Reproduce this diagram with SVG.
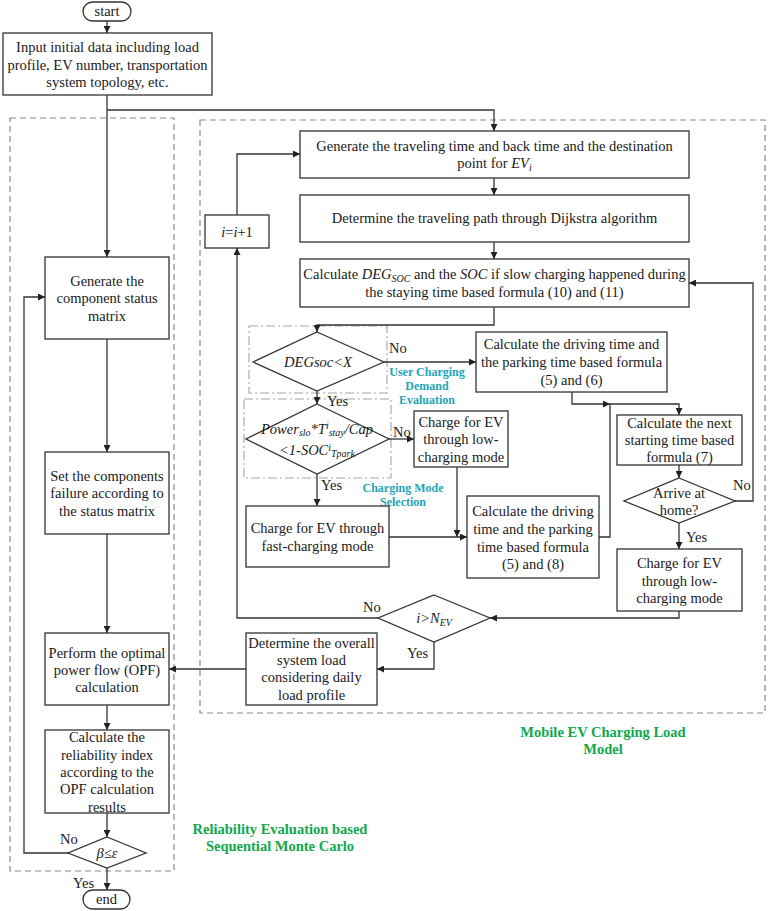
<svg xmlns="http://www.w3.org/2000/svg" width="768" height="911" viewBox="0 0 768 911">
<defs>
<marker id="ah" viewBox="0 0 8 8" refX="8" refY="4" markerWidth="7" markerHeight="7" markerUnits="userSpaceOnUse" orient="auto"><path d="M0,0 L8,4 L0,8 z" fill="#222"/></marker>
<style>
.b{fill:#fff;stroke:#333;stroke-width:1.3}
.t{font-family:"Liberation Serif","Times New Roman",serif;font-size:14.5px;fill:#1a1a1a;text-anchor:middle}
.i{font-style:italic}
.s{font-size:10px}
.c{fill:none;stroke:#333;stroke-width:1.3}
.a{marker-end:url(#ah)}
.dash{fill:none;stroke:#8a8a8a;stroke-width:1.2;stroke-dasharray:6,4}
.dd{fill:none;stroke:#a5a5a5;stroke-width:1.1;stroke-dasharray:9,3,2,3}
.teal{font-family:"Liberation Serif","Times New Roman",serif;font-size:12px;font-weight:bold;fill:#22a5b8;text-anchor:middle}
.grn{font-family:"Liberation Serif","Times New Roman",serif;font-size:14.5px;font-weight:bold;fill:#10a84b;text-anchor:middle}
.lb{font-family:"Liberation Serif","Times New Roman",serif;font-size:14.5px;fill:#1a1a1a}
</style>
</defs>
<rect width="768" height="911" fill="#fff"/>

<g id="groups">
<rect class="dash" x="10" y="118" width="164" height="753"/>
<rect class="dash" x="200" y="120" width="565" height="593"/>
<rect class="dd" x="249" y="326" width="138" height="67"/>
<rect class="dd" x="244" y="399" width="147" height="79"/>
<text class="teal"><tspan x="427" y="376">User Charging</tspan><tspan x="427" y="390">Demand</tspan><tspan x="427" y="404">Evaluation</tspan></text>
<text class="teal"><tspan x="403" y="492">Charging Mode</tspan><tspan x="403" y="506">Selection</tspan></text>
<text class="grn"><tspan x="603" y="737">Mobile EV Charging Load</tspan><tspan x="603" y="754">Model</tspan></text>
<text class="grn"><tspan x="280" y="834">Reliability Evaluation based</tspan><tspan x="280" y="851">Sequential Monte Carlo</tspan></text>
</g>

<g id="connectors">
<path class="c a" d="M107,21 V33"/>
<path class="c a" d="M107,95 V257"/>
<path class="c a" d="M107,110 H494 V131"/>
<path class="c a" d="M107,339 V452"/>
<path class="c a" d="M107,534 V633"/>
<path class="c a" d="M107,705 V730"/>
<path class="c a" d="M107,813 V837"/>
<path class="c a" d="M107,868 V890"/>
<path class="c a" d="M68,853 H24 V297 H45"/>
<path class="c a" d="M494,178 V195"/>
<path class="c a" d="M494,242 V259"/>
<path class="c a" d="M494,307 V325 H317 V332"/>
<path class="c a" d="M384,362 H476"/>
<path class="c a" d="M317,391 V404"/>
<path class="c a" d="M389,439 H414"/>
<path class="c a" d="M317,474 V506"/>
<path class="c a" d="M389,537 H467"/>
<path class="c a" d="M457,467 V537"/>
<path class="c a" d="M572,392 V404 H610"/>
<path class="c a" d="M610,404 H679 V415"/>
<path class="c" d="M599,537 H610 V404"/>
<path class="c a" d="M679,465 V478"/>
<path class="c a" d="M735,501 H753 V283 H689"/>
<path class="c a" d="M679,523 V549"/>
<path class="c a" d="M679,611 V618 H490"/>
<path class="c a" d="M378,618 H237 V248"/>
<path class="c a" d="M237,215 V154 H300"/>
<path class="c a" d="M434,642 V669 H377"/>
<path class="c a" d="M246,669 H169"/>
<text class="lb" x="389" y="353">No</text>
<text class="lb" x="327" y="406">Yes</text>
<text class="lb" x="393" y="437">No</text>
<text class="lb" x="321" y="490">Yes</text>
<text class="lb" x="733" y="490">No</text>
<text class="lb" x="686" y="542">Yes</text>
<text class="lb" x="363" y="612">No</text>
<text class="lb" x="407" y="658">Yes</text>
<text class="lb" x="60" y="844">No</text>
<text class="lb" x="73" y="888">Yes</text>
</g>

<g id="start">
<rect class="b" x="83" y="2" width="48" height="19" rx="9.5"/>
<text class="t" x="107" y="16">start</text>
</g>
<g id="input">
<rect class="b" x="3" y="33" width="209" height="62"/>
<text class="t"><tspan x="107.5" y="52">Input initial data including load</tspan><tspan x="107.5" y="70">profile, EV number, transportation</tspan><tspan x="107.5" y="87">system topology, etc.</tspan></text>
</g>
<g id="component">
<rect class="b" x="45" y="257" width="124" height="82"/>
<text class="t"><tspan x="107" y="286">Generate the</tspan><tspan x="107" y="303">component status</tspan><tspan x="107" y="321">matrix</tspan></text>
</g>
<g id="failure">
<rect class="b" x="45" y="452" width="124" height="82"/>
<text class="t"><tspan x="107" y="481">Set the components</tspan><tspan x="107" y="498">failure according to</tspan><tspan x="107" y="516">the status matrix</tspan></text>
</g>
<g id="opf">
<rect class="b" x="45" y="633" width="124" height="72"/>
<text class="t"><tspan x="107" y="658">Perform the optimal</tspan><tspan x="107" y="675">power flow (OPF)</tspan><tspan x="107" y="692">calculation</tspan></text>
</g>
<g id="reliability">
<rect class="b" x="45" y="730" width="124" height="83"/>
<text class="t"><tspan x="107" y="742">Calculate the</tspan><tspan x="107" y="760">reliability index</tspan><tspan x="107" y="777">according to the</tspan><tspan x="107" y="794">OPF calculation</tspan><tspan x="107" y="812">results</tspan></text>
</g>
<g id="converge">
<path class="b" d="M107,837 L146,853 L107,868 L68,853 Z"/>
<text class="t i" x="107" y="858">β≤ε</text>
</g>
<g id="end">
<rect class="b" x="83" y="890" width="47" height="19" rx="9.5"/>
<text class="t" x="106.5" y="904">end</text>
</g>

<g id="generate">
<rect class="b" x="300" y="131" width="389" height="47"/>
<text class="t"><tspan x="494.5" y="151">Generate the traveling time and back time and the destination</tspan><tspan x="494.5" y="168">point for <tspan class="i">EV</tspan><tspan class="i s" dy="3">i</tspan></tspan></text>
</g>
<g id="dijkstra">
<rect class="b" x="300" y="195" width="389" height="47"/>
<text class="t" x="494.5" y="223">Determine the traveling path through Dijkstra algorithm</text>
</g>
<g id="degsoc">
<rect class="b" x="300" y="259" width="389" height="48"/>
<text class="t"><tspan x="494.5" y="279">Calculate <tspan class="i">DEG</tspan><tspan class="i s" dy="3">SOC</tspan><tspan dy="-3"> and the </tspan><tspan class="i">SOC</tspan> if slow charging happened during</tspan><tspan x="494.5" y="297">the staying time based formula (10) and (11)</tspan></text>
</g>
<g id="inc">
<rect class="b" x="205" y="215" width="64" height="33"/>
<text class="t" x="237" y="237"><tspan class="i">i</tspan>=<tspan class="i">i</tspan>+1</text>
</g>
<g id="d1">
<path class="b" d="M317,332 L384,362 L317,391 L253,362 Z"/>
<text class="t i" x="318" y="367">DEGsoc&lt;X</text>
</g>
<g id="d2">
<path class="b" d="M317,404 L389,439 L317,474 L246,439 Z"/>
<text class="t i" x="317" y="434">Power<tspan class="s" dy="2">slo</tspan><tspan dy="-2">*T</tspan><tspan class="s" dy="-5">i</tspan><tspan class="s" dy="7">stay</tspan><tspan dy="-2">/Cap</tspan></text>
<text class="t i" x="317" y="455">&lt;1-SOC<tspan class="s" dy="-4">i</tspan><tspan class="s" dy="6">Tpark</tspan></text>
</g>
<g id="lowcharge1">
<rect class="b" x="414" y="411" width="94" height="56"/>
<text class="t"><tspan x="461" y="427">Charge for EV</tspan><tspan x="461" y="444">through low-</tspan><tspan x="461" y="462">charging mode</tspan></text>
</g>
<g id="fastcharge">
<rect class="b" x="246" y="506" width="143" height="61"/>
<text class="t"><tspan x="317.5" y="533">Charge for EV through</tspan><tspan x="317.5" y="551">fast-charging mode</tspan></text>
</g>
<g id="calc56">
<rect class="b" x="476" y="332" width="191" height="60"/>
<text class="t"><tspan x="571.5" y="349">Calculate the driving time and</tspan><tspan x="571.5" y="367">the parking time based formula</tspan><tspan x="571.5" y="385">(5) and (6)</tspan></text>
</g>
<g id="calc58">
<rect class="b" x="467" y="496" width="132" height="82"/>
<text class="t"><tspan x="533" y="516">Calculate the driving</tspan><tspan x="533" y="534">time and the parking</tspan><tspan x="533" y="552">time based formula</tspan><tspan x="533" y="569">(5) and (8)</tspan></text>
</g>
<g id="nextstart">
<rect class="b" x="617" y="415" width="125" height="50"/>
<text class="t"><tspan x="679.5" y="428">Calculate the next</tspan><tspan x="679.5" y="445">starting time based</tspan><tspan x="679.5" y="462">formula (7)</tspan></text>
</g>
<g id="home">
<path class="b" d="M679,478 L735,501 L679,523 L624,501 Z"/>
<text class="t"><tspan x="679" y="498">Arrive at</tspan><tspan x="679" y="515">home?</tspan></text>
</g>
<g id="lowcharge2">
<rect class="b" x="617" y="549" width="125" height="62"/>
<text class="t"><tspan x="679.5" y="568">Charge for EV</tspan><tspan x="679.5" y="586">through low-</tspan><tspan x="679.5" y="603">charging mode</tspan></text>
</g>
<g id="nev">
<path class="b" d="M434,595 L490,618 L434,642 L378,618 Z"/>
<text class="t i" x="434" y="623">i&gt;N<tspan class="s" dy="3">EV</tspan></text>
</g>
<g id="overall">
<rect class="b" x="246" y="633" width="131" height="72"/>
<text class="t"><tspan x="311.5" y="648">Determine the overall</tspan><tspan x="311.5" y="665">system load</tspan><tspan x="311.5" y="682">considering daily</tspan><tspan x="311.5" y="700">load profile</tspan></text>
</g>
</svg>
